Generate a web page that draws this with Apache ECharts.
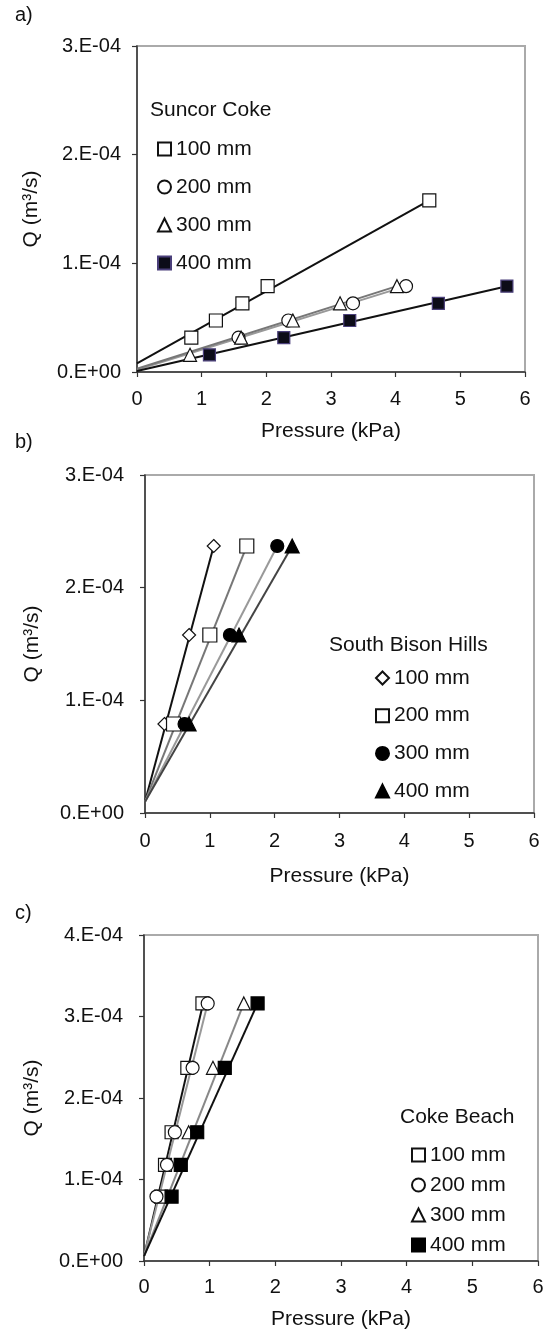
<!DOCTYPE html>
<html>
<head>
<meta charset="utf-8">
<script src="https://cdn.jsdelivr.net/npm/echarts@6/dist/echarts.min.js"></script>
<style>
html,body{margin:0;padding:0;background:#fff;}
#chart{width:549px;height:1331px;}
</style>
</head>
<body>
<div id="chart"></div>
<script>
// ---------- data ----------
const xTicks = [0, 1, 2, 3, 4, 5, 6];
const yTickLabelsAB = ['0.E+00', '1.E-04', '2.E-04', '3.E-04'];
const yTickLabelsC = ['0.E+00', '1.E-04', '2.E-04', '3.E-04', '4.E-04'];
const legendTitles = ['Suncor Coke', 'South Bison Hills', 'Coke Beach'];
const panelLabels = ['a)', 'b)', 'c)'];
const sizes = ['100 mm', '200 mm', '300 mm', '400 mm'];

// Panel a: Suncor Coke  (Pressure kPa, Q m3/s)
const aP100 = [0.84, 1.22, 1.63, 2.02, 4.52];
const aQ100 = [3.16e-5, 4.74e-5, 6.32e-5, 7.9e-5, 1.58e-4];
const aP200 = [1.57, 2.34, 3.34, 4.16];
const aQ200 = [3.16e-5, 4.74e-5, 6.32e-5, 7.9e-5];
const aP300 = [0.82, 1.61, 2.41, 3.14, 4.02];
const aQ300 = [1.58e-5, 3.16e-5, 4.74e-5, 6.32e-5, 7.9e-5];
const aP400 = [1.12, 2.27, 3.29, 4.66, 5.72];
const aQ400 = [1.58e-5, 3.16e-5, 4.74e-5, 6.32e-5, 7.9e-5];
const aFit100 = [[0, 0.8e-5], [4.52, 1.58e-4]];
const aFit200 = [[0, 0.2e-5], [4.16, 7.9e-5]];
const aFit300 = [[0, 0.3e-5], [4.02, 7.9e-5]];
const aFit400 = [[0, 0.1e-5], [5.72, 7.9e-5]];

// Panel b: South Bison Hills
const bQ = [7.9e-5, 1.58e-4, 2.37e-4];
const bP100 = [0.30, 0.68, 1.06];
const bP200 = [0.44, 1.00, 1.57];
const bP300 = [0.61, 1.31, 2.04];
const bP400 = [0.68, 1.45, 2.27];
const bFit100 = [[0, 1.0e-5], [1.06, 2.37e-4]];
const bFit200 = [[0, 1.0e-5], [1.57, 2.37e-4]];
const bFit300 = [[0, 1.0e-5], [2.04, 2.37e-4]];
const bFit400 = [[0, 1.0e-5], [2.27, 2.37e-4]];

// Panel c: Coke Beach
const cQ = [7.9e-5, 1.18e-4, 1.58e-4, 2.37e-4, 3.16e-4];
const cQ300 = [1.58e-4, 2.37e-4, 3.16e-4];
const cP100 = [0.26, 0.32, 0.42, 0.66, 0.89];
const cP200 = [0.19, 0.35, 0.47, 0.74, 0.97];
const cP300 = [0.68, 1.05, 1.52];
const cP400 = [0.42, 0.56, 0.81, 1.23, 1.73];
const cFit100 = [[0, 0.6e-5], [0.90, 3.16e-4]];
const cFit200 = [[0, 0.6e-5], [0.97, 3.16e-4]];
const cFit300 = [[0, 0.6e-5], [1.52, 3.16e-4]];
const cFit400 = [[0, 0.6e-5], [1.73, 3.16e-4]];

// ---------- styling / layout ----------
const FONT = 'Liberation Sans, Arial, Helvetica, sans-serif';
const TXT = '#111';
const grids = [
  {left: 137, top: 46, width: 388, height: 326},
  {left: 145, top: 475, width: 389, height: 338},
  {left: 144, top: 935, width: 394, height: 326}
];
const yMax = [3e-4, 3e-4, 4e-4];
const yLabels = [yTickLabelsAB, yTickLabelsAB, yTickLabelsC];
const yLabelMargin = [16, 21, 21];
const xLabelMargin = [17, 18, 16];
const xNameGap = [49, 53, 48];
const yNameGap = [95, 102, 101];

const zip = (xs, ys) => xs.map((x, i) => [x, ys[i]]);

const hollow = (sym, size) => ({symbol: sym, symbolSize: size, itemStyle: {color: '#fff', borderColor: '#111', borderWidth: 1.2, opacity: 1}});
const filled = (sym, size, fill, border) => ({symbol: sym, symbolSize: size, itemStyle: {color: fill, borderColor: border || fill, borderWidth: 1.2, opacity: 1}});

const series = [];
function addFit(gi, data, color) {
  series.push({type: 'line', xAxisIndex: gi, yAxisIndex: gi, data: data, symbol: 'none',
    lineStyle: {color: color, width: 2}, z: 2, silent: true, animation: false});
}
function addPts(gi, name, data, style) {
  series.push(Object.assign({type: 'scatter', name: name, xAxisIndex: gi, yAxisIndex: gi, data: data, z: 3, animation: false}, style));
}

// panel a
addFit(0, aFit100, '#111');
addFit(0, aFit200, '#999');
addFit(0, aFit300, '#777');
addFit(0, aFit400, '#111');
addPts(0, 'a|' + sizes[0], zip(aP100, aQ100), hollow('rect', 13));
addPts(0, 'a|' + sizes[1], zip(aP200, aQ200), hollow('circle', 13));
addPts(0, 'a|' + sizes[2], zip(aP300, aQ300), hollow('triangle', 13));
addPts(0, 'a|' + sizes[3], zip(aP400, aQ400), filled('rect', 12, '#0c0c18', '#4a3f7a'));
// panel b
addFit(1, bFit100, '#111');
addFit(1, bFit200, '#777');
addFit(1, bFit300, '#999');
addFit(1, bFit400, '#444');
addPts(1, 'b|' + sizes[0], zip(bP100, bQ), hollow('diamond', 13));
addPts(1, 'b|' + sizes[1], zip(bP200, bQ), hollow('rect', 14));
addPts(1, 'b|' + sizes[2], zip(bP300, bQ), filled('circle', 13, '#000'));
addPts(1, 'b|' + sizes[3], zip(bP400, bQ), filled('triangle', 14, '#000'));
// panel c
addFit(2, cFit100, '#111');
addFit(2, cFit200, '#999');
addFit(2, cFit300, '#888');
addFit(2, cFit400, '#111');
addPts(2, 'c|' + sizes[0], zip(cP100, cQ), hollow('rect', 13));
addPts(2, 'c|' + sizes[1], zip(cP200, cQ), hollow('circle', 13));
addPts(2, 'c|' + sizes[2], zip(cP300, cQ300), hollow('triangle', 13));
addPts(2, 'c|' + sizes[3], zip(cP400, cQ), filled('rect', 13, '#000'));

const xAxis = grids.map((g, i) => ({
  gridIndex: i, type: 'value', min: xTicks[0], max: xTicks[xTicks.length - 1], interval: 1,
  name: 'Pressure (kPa)', nameLocation: 'middle', nameGap: xNameGap[i],
  nameTextStyle: {fontFamily: FONT, fontSize: 21, color: TXT},
  axisLine: {onZero: false, lineStyle: {color: '#333', width: 1.5}},
  axisTick: {show: true, inside: false, length: 5, lineStyle: {color: '#333', width: 1.2}},
  axisLabel: {margin: xLabelMargin[i], fontFamily: FONT, fontSize: 20, color: TXT},
  splitLine: {show: false}
}));
const yAxis = grids.map((g, i) => ({
  gridIndex: i, type: 'value', min: 0, max: yMax[i], interval: 1e-4,
  name: 'Q (m³/s)', nameLocation: 'middle', nameGap: yNameGap[i],
  nameTextStyle: {fontFamily: FONT, fontSize: 21, color: TXT},
  axisLine: {onZero: false, lineStyle: {color: '#333', width: 1.5}},
  axisTick: {show: true, inside: false, length: 5, lineStyle: {color: '#333', width: 1.2}},
  axisLabel: {margin: yLabelMargin[i], fontFamily: FONT, fontSize: 20, color: TXT,
    formatter: v => yLabels[i][Math.round(v / 1e-4)]},
  splitLine: {show: false}
}));

const legendPos = [
  {left: 157, top: 138.5, itemGap: 17},
  {left: 375, top: 667.5, itemGap: 16.7},
  {left: 411, top: 1144.5, itemGap: 9}
];
const legend = ['a', 'b', 'c'].map((p, i) => ({
  orient: 'vertical', left: legendPos[i].left, top: legendPos[i].top, itemGap: legendPos[i].itemGap,
  padding: 0, itemWidth: 13, itemHeight: 13, selectedMode: false,
  data: sizes.map(s => p + '|' + s),
  formatter: n => n.split('|')[1],
  textStyle: {fontFamily: FONT, fontSize: 21, lineHeight: 21, color: TXT}
}));

const titlePos = [
  {text: panelLabels[0], left: 15, top: 5, size: 20},
  {text: panelLabels[1], left: 15, top: 432, size: 20},
  {text: panelLabels[2], left: 15, top: 903, size: 20},
  {text: legendTitles[0], left: 150, top: 99.5, size: 21},
  {text: legendTitles[1], left: 329, top: 634.5, size: 21},
  {text: legendTitles[2], left: 400, top: 1106.5, size: 21}
];
const title = titlePos.map(t => ({
  text: t.text, left: t.left, top: t.top, padding: 0,
  textStyle: {fontFamily: FONT, fontSize: t.size, lineHeight: t.size, fontWeight: 'normal', color: TXT}
}));

const chart = echarts.init(document.getElementById('chart'), null, {renderer: 'canvas'});
chart.setOption({
  animation: false,
  backgroundColor: '#fff',
  title: title,
  legend: legend,
  grid: grids.map(g => Object.assign({show: true, borderColor: '#aaa', borderWidth: 2, backgroundColor: 'transparent', containLabel: false}, g)),
  xAxis: xAxis,
  yAxis: yAxis,
  series: series
});
</script>
</body>
</html>
